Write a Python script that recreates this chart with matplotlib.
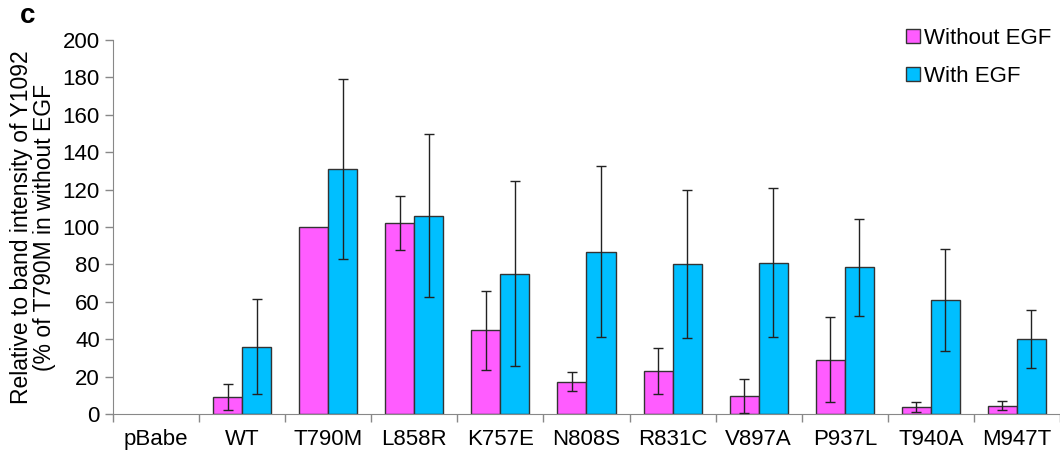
import matplotlib.pyplot as plt
import numpy as np

plt.rcParams['font.family'] = ['Liberation Sans', 'DejaVu Sans']

# Data
categories = ['pBabe', 'WT', 'T790M', 'L858R', 'K757E', 'N808S',
              'R831C', 'V897A', 'P937L', 'T940A', 'M947T']
without_egf = [0, 8.9, 100, 102, 44.8, 17.3, 23, 9.8, 29, 3.7, 4.4]
without_err = [0, 6.9, 0, 14.5, 21, 5.1, 12.2, 9.2, 22.8, 2.5, 2.5]
with_egf = [0, 36, 131, 106, 75, 86.8, 80.2, 81, 78.4, 60.8, 40.1]
with_err = [0, 25.4, 48, 43.5, 49.5, 45.7, 39.4, 40, 26, 27.2, 15.6]

x = np.arange(len(categories))
w = 0.337

fig = plt.figure(figsize=(10.6, 4.54), dpi=100)
ax = fig.add_axes([0.1066, 0.088, 0.8934, 0.824])

ekw = dict(fmt='none', ecolor='#222222', elinewidth=1, capsize=3.5, capthick=1)
series = [(without_egf, without_err, -w / 2, '#ff5cff', 'Without EGF'),
          (with_egf, with_err, w / 2, '#00bfff', 'With EGF')]
for vals, errs, off, col, lab in series:
    vals = np.array(vals)
    errs = np.array(errs)
    m = vals > 0
    ax.bar(x[m] + off, vals[m], w, color=col, edgecolor='#333333',
           linewidth=1, label=lab, zorder=2)
    e = errs > 0
    ax.errorbar(x[e] + off, vals[e], yerr=errs[e], zorder=3, **ekw)

ax.set_xlim(-0.5, len(categories) - 0.5)
ax.set_ylim(0, 200)
ax.set_yticks(np.arange(0, 201, 20))

# boundary ticks (no label), category labels as minor ticks
ax.set_xticks(np.arange(-0.5, len(categories), 1))
ax.set_xticklabels([])
ax.set_xticks(x, minor=True)
ax.set_xticklabels(categories, minor=True)
ax.tick_params(axis='x', which='major', length=6, color='#888888', width=1)
ax.tick_params(axis='x', which='minor', length=0, labelsize=16, pad=11)
ax.tick_params(axis='y', length=6, color='#888888', width=1, labelsize=16)

for s in ['top', 'right']:
    ax.spines[s].set_visible(False)
for s in ['left', 'bottom']:
    ax.spines[s].set_color('#888888')

ax.set_ylabel('Relative to band intensity of Y1092\n(% of T790M in without EGF',
              fontsize=16.5, linespacing=1.0)
ax.yaxis.set_label_coords(-0.06, 0.5)

ax.legend(loc='upper right', bbox_to_anchor=(1.012, 1.085), frameon=False,
          fontsize=16, handlelength=0.6, handleheight=0.6, handletextpad=0.2,
          labelspacing=0.75)

fig.text(0.019, 0.965, 'c', fontsize=20, fontweight='bold', va='center')

fig.savefig('out.png', dpi=100)
